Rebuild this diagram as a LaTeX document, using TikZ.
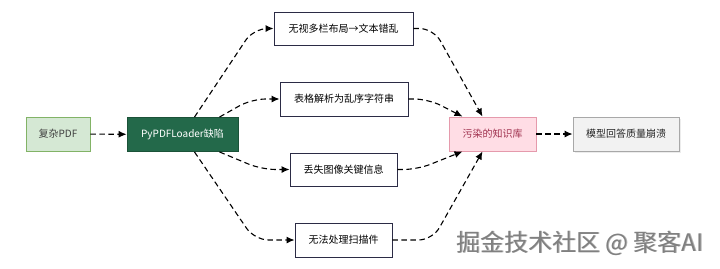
\documentclass[tikz,border=0pt]{standalone}
\usepackage{fontspec}
\setmainfont{Noto Sans CJK SC}
\usetikzlibrary{shadows,arrows.meta}
\definecolor{srcfill}{HTML}{D5E8D4}
\definecolor{srcline}{HTML}{82B366}
\definecolor{bugfill}{HTML}{23694A}
\definecolor{bugline}{HTML}{1B5238}
\definecolor{kbfill}{HTML}{FFDDE5}
\definecolor{kbline}{HTML}{E59AAC}
\definecolor{kbtext}{HTML}{9E2F4C}
\definecolor{endfill}{HTML}{F2F2F2}
\definecolor{endline}{HTML}{A8A8A8}
\definecolor{stepline}{HTML}{2B2B45}
\tikzset{
  box/.style={draw,line width=0.9pt,minimum height=34pt,inner sep=0pt,
    font=\fontsize{10}{12}\selectfont},
  issue/.style={box,draw=stepline,fill=white},
  flow/.style={-{Latex[length=8pt,width=7pt]},dashed,dash pattern=on 5.5pt off 3.5pt,
    line width=1.1pt,rounded corners=14pt},
}
\begin{document}
\begin{tikzpicture}[x=1pt,y=-1pt]
  \useasboundingbox (0,0) rectangle (720,268);
  % main row
  \node[box,fill=srcfill,draw=srcline,minimum width=64pt,text=black!75] (pdf) at (58,134) {复杂PDF};
  \node[box,fill=bugfill,draw=bugline,minimum width=111pt,text=white] (loader) at (182.5,134.5) {PyPDFLoader缺陷};
  \node[box,fill=kbfill,draw=kbline,minimum width=87pt,text=kbtext] (kb) at (492.5,134) {污染的知识库};
  \node[box,fill=endfill,draw=endline,minimum width=106pt,text=black!85,
    drop shadow={opacity=0.15,shadow xshift=1.5pt,shadow yshift=-1.5pt}] (result) at (626,134) {模型回答质量崩溃};
  % the four defects
  \node[issue,minimum width=139pt,minimum height=33pt] (colsbox) at (343.5,28.5) {无视多栏布局→文本错乱};
  \node[issue,minimum width=128pt] (tablebox) at (344,99) {表格解析为乱序字符串};
  \node[issue,minimum width=107pt,minimum height=33pt] (imagebox) at (343.5,169.5) {丢失图像关键信息};
  \node[issue,minimum width=97pt] (scanbox) at (343.5,240) {无法处理扫描件};
  % connectors
  \draw[flow] (pdf) -- (loader);
  \draw[flow] ([xshift=12pt]loader.north) -- ([xshift=-20pt]colsbox.west) -- (colsbox.west);
  \draw[flow] ([xshift=37pt]loader.north) -- ([xshift=-28pt]tablebox.west) -- (tablebox.west);
  \draw[flow] ([xshift=37pt]loader.south) -- ([xshift=-28pt]imagebox.west) -- (imagebox.west);
  \draw[flow] ([xshift=12pt]loader.south) -- ([xshift=-40pt]scanbox.west) -- (scanbox.west);
  \draw[flow] (colsbox.east) -- ([xshift=20pt]colsbox.east) -- ([xshift=-10pt]kb.north);
  \draw[flow] (tablebox.east) -- ([xshift=20pt]tablebox.east) -- ([xshift=-30pt]kb.north);
  \draw[flow] (imagebox.east) -- ([xshift=20pt]imagebox.east) -- ([xshift=-30pt]kb.south);
  \draw[flow] (scanbox.east) -- ([xshift=40pt]scanbox.east) -- ([xshift=-10pt]kb.south);
  \draw[flow] (kb) -- (result);
  % watermark
  \node[text=black!30,font=\fontsize{24}{26}\selectfont] (markshade) at (580.8,243.8) {掘金技术社区 @ 聚客AI};
  \node[text=black!50,font=\fontsize{24}{26}\selectfont] (mark) at (580,243) {掘金技术社区 @ 聚客AI};
\end{tikzpicture}
\end{document}
